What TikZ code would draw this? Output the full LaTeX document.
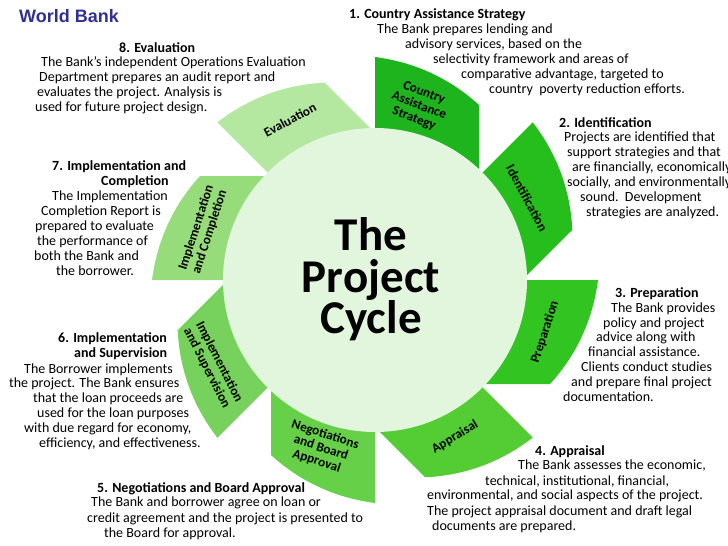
\documentclass[tikz,border=0pt]{standalone}
\usepackage{fontspec}
\setmainfont{Carlito}
\newfontfamily\arialf{Liberation Sans}
\definecolor{pA}{RGB}{29,180,29}
\definecolor{pB}{RGB}{38,190,28}
\definecolor{pC}{RGB}{50,196,32}
\definecolor{pD}{RGB}{84,204,52}
\definecolor{pE}{RGB}{102,208,72}
\definecolor{pF}{RGB}{118,210,92}
\definecolor{pG}{RGB}{150,220,122}
\definecolor{pH}{RGB}{180,232,160}
\definecolor{disc}{RGB}{226,246,222}
\definecolor{wbblue}{RGB}{46,49,146}
\tikzset{
  txt/.style={font=\fontsize{14}{15}\selectfont, inner sep=0pt, anchor=base west},
  plabel/.style={font=\bfseries\fontsize{13.2}{14}\selectfont, align=center, inner sep=0pt},
  ttl/.style={font=\bfseries\fontsize{47}{47}\selectfont, inner sep=0pt, anchor=base}
}
\begin{document}
\begin{tikzpicture}[x=1pt,y=-1pt]
\useasboundingbox (0,0) rectangle (728,546);
\clip (0,0) rectangle (728,546);
\fill[white] (0,0) rectangle (728,546);
% petals
\foreach \c [count=\k from 0] in {pA,pB,pC,pD,pE,pF,pG,pH}{
  \begin{scope}[shift={(375,280)}, rotate=-45*\k]
    \fill[\c] (0,0) -- (0,-223) .. controls (40,-217.7) and (74.7,-201.7) .. (104,-175) -- (104,0) -- cycle;
  \end{scope}
}
\fill[disc] (375,280) circle[radius=152];
% title
\node[ttl] (tThe) at (371,250) {The};
\node[ttl] (tProject) at (371,292) {Project};
\node[ttl] (tCycle) at (371,333) {Cycle};
% petal labels
\node[plabel, rotate=-21] (lCAS) at (419,106) {Country\\Assistance\\Strategy};
\node[plabel, rotate=-62] (lId) at (527,198) {Identification};
\node[plabel, rotate=72] (lPrep) at (545,332) {Preparation};
\node[plabel, rotate=31] (lApp) at (455,437) {Appraisal};
\node[plabel, rotate=-18] (lNeg) at (321,448) {Negotiations\\and Board\\Approval};
\node[plabel, rotate=-63] (lIS) at (213,365) {Implementation\\and Supervision};
\node[plabel, rotate=72] (lIC) at (203,230) {Implementation\\and Completion};
\node[plabel, rotate=28] (lEv) at (290,120) {Evaluation};
% World Bank
\node[inner sep=0pt, anchor=base west, font=\arialf\bfseries\fontsize{18}{18}\selectfont, text=wbblue] (wb) at (19,23) {World Bank};
% block 1
\foreach \x/\y/\t [count=\i] in {
  349/18/{\bfseries 1. Country Assistance Strategy},
  377/33/{The Bank prepares lending and},
  405/48/{advisory services, based on the},
  433/63/{selectivity framework and areas of},
  461/78/{comparative advantage, targeted to},
  489/93/{country\ \ poverty reduction efforts.}}
  \node[txt] (bA\i) at (\x,\y) {\t};
% block 2
\foreach \x/\y/\t [count=\i] in {
  559/127/{\bfseries 2. Identification},
  564/141/{Projects are identified that},
  567/156/{support strategies and that},
  572/171/{are financially, economically,},
  567/186/{socially, and environmentally},
  580/201/{sound.\ \ Development},
  586/216/{strategies are analyzed.}}
  \node[txt] (bB\i) at (\x,\y) {\t};
% block 3
\foreach \x/\y/\t [count=\i] in {
  615/297/{\bfseries 3. Preparation},
  611/312/{The Bank provides},
  603/327/{policy and project},
  596/341/{advice along with},
  588/356/{financial assistance.},
  581/371/{Clients conduct studies},
  571/386/{and prepare final project},
  563/401/{documentation.}}
  \node[txt] (bC\i) at (\x,\y) {\t};
% block 4
\foreach \x/\y/\t [count=\i] in {
  535/455/{\bfseries 4. Appraisal},
  518/469/{The Bank assesses the economic,},
  485/485/{technical, institutional, financial,},
  427/499/{environmental, and social aspects of the project.},
  427/515/{The project appraisal document and draft legal},
  432/530/{documents are prepared.}}
  \node[txt] (bD\i) at (\x,\y) {\t};
% block 5
\foreach \x/\y/\t [count=\i] in {
  97/492/{\bfseries 5. Negotiations and Board Approval},
  91/506/{The Bank and borrower agree on loan or},
  87/522/{credit agreement and the project is presented to},
  104/537/{the Board for approval.}}
  \node[txt] (bE\i) at (\x,\y) {\t};
% block 6
\foreach \x/\y/\t [count=\i] in {
  58/342/{\bfseries 6. Implementation},
  74/357/{\bfseries and Supervision},
  24/373/{The Borrower implements},
  9/387/{the project. The Bank ensures},
  33/402/{that the loan proceeds are},
  37/417/{used for the loan purposes},
  24/432/{with due regard for economy,},
  39/447/{efficiency, and effectiveness.}}
  \node[txt] (bF\i) at (\x,\y) {\t};
% block 7
\foreach \x/\y/\t [count=\i] in {
  52/170/{\bfseries 7. Implementation and},
  101/185/{\bfseries Completion},
  52/200/{The Implementation},
  41/215/{Completion Report is},
  35/230/{prepared to evaluate},
  37/245/{the performance of},
  34/260/{both the Bank and},
  56/275/{the borrower.}}
  \node[txt] (bG\i) at (\x,\y) {\t};
% block 8
\foreach \x/\y/\t [count=\i] in {
  119/52/{\bfseries 8. Evaluation},
  41/66/{The Bank's independent Operations Evaluation},
  39/81/{Department prepares an audit report and},
  37/96/{evaluates the project. Analysis is},
  35/111/{used for future project design.}}
  \node[txt] (bH\i) at (\x,\y) {\t};
\end{tikzpicture}
\end{document}
